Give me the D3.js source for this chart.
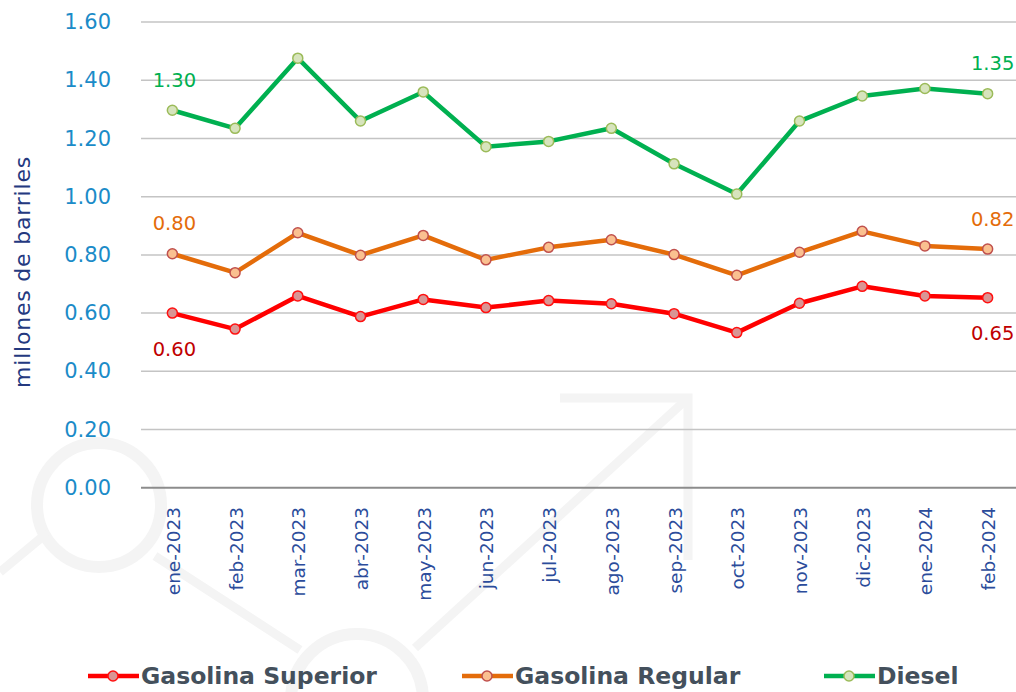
<!DOCTYPE html>
<html>
<head>
<meta charset="utf-8">
<script src="https://cdn.jsdelivr.net/npm/d3@7"></script>
<style>
  body { margin: 0; background: #fff; }
  svg { display: block; font-family: "DejaVu Sans", "Open Sans", sans-serif; }
</style>
</head>
<body>
<div id="chart"></div>
<script>
const months = ['ene-2023', 'feb-2023', 'mar-2023', 'abr-2023', 'may-2023', 'jun-2023', 'jul-2023',
  'ago-2023', 'sep-2023', 'oct-2023', 'nov-2023', 'dic-2023', 'ene-2024', 'feb-2024'];
const superior = [0.600, 0.545, 0.659, 0.588, 0.647, 0.619, 0.643, 0.632, 0.598, 0.533, 0.634, 0.692, 0.659, 0.653];
const regular = [0.804, 0.739, 0.876, 0.799, 0.867, 0.783, 0.826, 0.852, 0.801, 0.730, 0.809, 0.881, 0.831, 0.820];
const diesel = [1.297, 1.235, 1.476, 1.260, 1.360, 1.172, 1.190, 1.235, 1.113, 1.009, 1.260, 1.346, 1.372, 1.354];
const yTicks = [0, 0.2, 0.4, 0.6, 0.8, 1.0, 1.2, 1.4, 1.6];

const series = [
  { name: 'Gasolina Superior', values: superior, line: '#ff0000', fill: '#d99594', stroke: '#ff1010', label: '#c00000' },
  { name: 'Gasolina Regular', values: regular, line: '#e46c0a', fill: '#fac090', stroke: '#c0504d', label: '#e46c0a' },
  { name: 'Diesel', values: diesel, line: '#00b050', fill: '#d7e4bd', stroke: '#9bbb59', label: '#00b050' }
];

const width = 1016, height = 692;
const svg = d3.select('#chart').append('svg').attr('width', width).attr('height', height);

// faint watermark in the background
const wm = svg.append('g').attr('fill', 'none').attr('stroke', '#f4f4f4').attr('stroke-width', 12);
wm.append('circle').attr('cx', 99).attr('cy', 505).attr('r', 62);
wm.append('circle').attr('cx', 357).attr('cy', 700).attr('r', 66);
wm.append('path').attr('d', 'M0,572 L47,533').attr('stroke-width', 9);
wm.append('path').attr('d', 'M155,556 L300,650').attr('stroke-width', 9);
wm.append('path').attr('d', 'M415,648 L688,398').attr('stroke-width', 9);
wm.append('path').attr('d', 'M560,398 L688,398 L688,560').attr('stroke-width', 9);

const x = d3.scaleBand().domain(months).range([141, 1019]);
const y = d3.scaleLinear().domain([0, 1.6]).range([487.7, 22.1]);
const cx = d => x(d) + x.bandwidth() / 2;

// gridlines
svg.append('g').selectAll('line').data(yTicks).join('line')
  .attr('x1', 141).attr('x2', width)
  .attr('y1', d => y(d)).attr('y2', d => y(d))
  .attr('stroke', d => d === 0 ? '#8c8c8c' : '#c4c4c4')
  .attr('stroke-width', d => d === 0 ? 2 : 1.5);

// y axis labels
svg.append('g').selectAll('text').data(yTicks).join('text')
  .attr('x', 111).attr('y', d => y(d))
  .attr('text-anchor', 'end').attr('dominant-baseline', 'central')
  .attr('fill', '#1b8bc8').attr('font-size', 21).attr('font-weight', 500)
  .text(d => d3.format('.2f')(d));

svg.append('text')
  .attr('transform', 'translate(22,272) rotate(-90)')
  .attr('text-anchor', 'middle').attr('dominant-baseline', 'central')
  .attr('fill', '#24397f').attr('font-size', 22).attr('letter-spacing', 0.8)
  .text('millones de barriles');

// x axis labels
svg.append('g').selectAll('text').data(months).join('text')
  .attr('transform', d => `translate(${cx(d) + 1},507) rotate(-90)`)
  .attr('text-anchor', 'end').attr('dominant-baseline', 'central')
  .attr('fill', '#2b4c9b').attr('font-size', 18.5)
  .text(d => d);

const line = d3.line().x((d, i) => cx(months[i])).y(d => y(d));

series.forEach(s => {
  svg.append('path').datum(s.values)
    .attr('d', line).attr('fill', 'none')
    .attr('stroke', s.line).attr('stroke-width', 4.5)
    .attr('stroke-linejoin', 'round');
  svg.append('g').selectAll('circle').data(s.values).join('circle')
    .attr('cx', (d, i) => cx(months[i])).attr('cy', d => y(d)).attr('r', 5)
    .attr('fill', s.fill).attr('stroke', s.stroke).attr('stroke-width', 1.5);
});

// data labels at first and last point
const labelPos = [
  { s: 0, i: 0, dx: 2, dy: 36 }, { s: 0, i: 13, dx: 5, dy: 36 },
  { s: 1, i: 0, dx: 2, dy: -30 }, { s: 1, i: 13, dx: 5, dy: -30 },
  { s: 2, i: 0, dx: 2, dy: -30 }, { s: 2, i: 13, dx: 5, dy: -30 }
];
svg.append('g').selectAll('text').data(labelPos).join('text')
  .attr('x', d => cx(months[d.i]) + d.dx)
  .attr('y', d => y(series[d.s].values[d.i]) + d.dy)
  .attr('text-anchor', 'middle').attr('dominant-baseline', 'central')
  .attr('fill', d => series[d.s].label).attr('font-size', 19.5)
  .text(d => d3.format('.2f')(series[d.s].values[d.i]));

// legend
const legendX = [88, 462, 824];
const lg = svg.append('g').selectAll('g').data(series).join('g')
  .attr('transform', (d, i) => `translate(${legendX[i]},676)`);
lg.append('line').attr('x1', 0).attr('x2', 51).attr('y1', 0).attr('y2', 0)
  .attr('stroke', d => d.line).attr('stroke-width', 4.5);
lg.append('circle').attr('cx', 25).attr('cy', 0).attr('r', 5)
  .attr('fill', d => d.fill).attr('stroke', d => d.stroke).attr('stroke-width', 1.5);
lg.append('text').attr('x', 53).attr('y', 0)
  .attr('dominant-baseline', 'central')
  .attr('fill', '#44505c').attr('font-size', 23.5).attr('font-weight', 'bold')
  .text(d => d.name);
</script>
</body>
</html>
